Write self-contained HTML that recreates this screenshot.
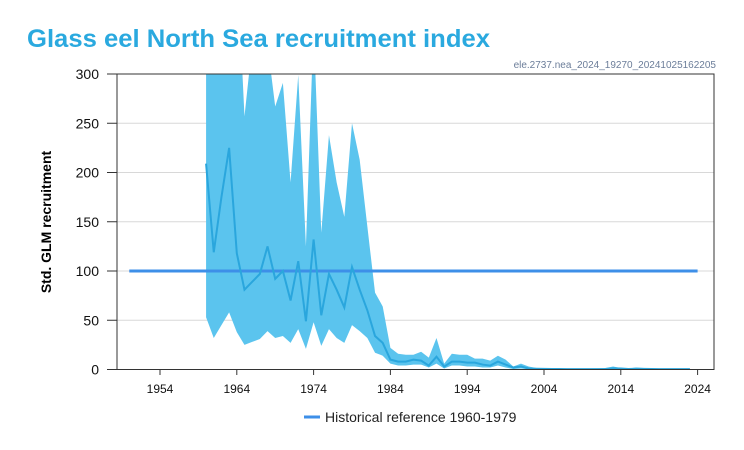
<!DOCTYPE html>
<html><head><meta charset="utf-8"><style>
body{margin:0;background:#fff;width:744px;height:450px;overflow:hidden}
svg{display:block;font-family:"Liberation Sans",sans-serif}
</style></head><body>
<svg id="chart" width="744" height="450">
<text x="27" y="47" font-size="25" font-weight="bold" fill="#2aa9df" textLength="463" lengthAdjust="spacingAndGlyphs">Glass eel North Sea recruitment index</text>
<text x="716" y="68" font-size="10" fill="#6b7d99" text-anchor="end">ele.2737.nea_2024_19270_20241025162205</text>
<text transform="translate(51,222) rotate(-90)" font-size="14" font-weight="bold" text-anchor="middle" fill="#000">Std. GLM recruitment</text>
<g id="grid"></g>
<defs><clipPath id="pc"><rect x="117" y="74" width="597" height="295"/></clipPath></defs>
<g id="marks" clip-path="url(#pc)"></g>
<rect x="117" y="74" width="597" height="295.5" fill="none" stroke="#333" stroke-width="1"/>
<g id="axes"></g>
<g>
<line x1="304" y1="417" x2="320" y2="417" stroke="#3d8fe8" stroke-width="3"/>
<text x="325" y="422" font-size="14" fill="#222">Historical reference 1960-1979</text>
</g>
</svg>
<script>
const years=[];for(let y=1960;y<=2023;y++)years.push(y);
const meanVals=[209,119,175,225,118,81,89,97,125,92,100,70,110,49,132,55,97,81,63,104,81,60,34,27,10,8,8,10,9,4,13,3,8,8,7,7,5,4,8,5,2,3,1,0.8,0.6,0.5,0.5,0.4,0.4,0.4,0.4,0.4,0.5,1.2,1,0.5,0.8,0.6,0.5,0.4,0.4,0.4,0.4,0.4];
const upperVals=[420,420,420,420,420,257,330,340,330,267,291,190,299,125,350,139,238,190,155,250,213,145,78,64,22,16,15,15,18,12,32,6,16,15,15,11,11,9,14,10,3,6,3,1.5,1,1,1,1,1,1,1,1.2,1.5,3,1.5,1,2,1.5,1,1,1,1,1,1];
const lowerVals=[53,32,45,58,38,25,28,31,39,32,34,27,41,21,48,24,41,32,27,45,39,32,17,14,6,4,4,5,5,2,6,1,4,4,3,3,2,2,4,2,0.5,1,0.3,0.2,0.2,0.1,0.1,0.1,0.1,0.1,0.1,0.1,0.1,0.4,0.3,0.1,0.2,0.1,0.1,0.1,0.1,0.1,0.1,0.1];
const refValue=100, refStart=1950, refEnd=2024;
const xTicks=[1954,1964,1974,1984,1994,2004,2014,2024];
const yTicks=[0,50,100,150,200,250,300];
const NS="http://www.w3.org/2000/svg";
const X=y=>160+(y-1954)*7.68;
const Y=v=>369.5-v*(295.5/300);
function mk(tag,attrs,parent){const e=document.createElementNS(NS,tag);for(const k in attrs)e.setAttribute(k,attrs[k]);document.getElementById(parent).appendChild(e);return e;}
yTicks.forEach(t=>{
  if(t>0&&t<300){const g=mk('line',{x1:117,x2:714,y1:Y(t),y2:Y(t),stroke:'#d8d8d8','stroke-width':1},'grid');
  
  }
  const tk=mk('line',{x1:107,x2:117,y1:Y(t),y2:Y(t),stroke:'#333'},'axes');
  
  
  const l=mk('text',{x:99,y:Y(t)+5,'font-size':14,'text-anchor':'end',fill:'#111'},'axes');l.textContent=t;
  
  
});
xTicks.forEach(t=>{
  const tk=mk('line',{x1:X(t),x2:X(t),y1:369.5,y2:375,stroke:'#333'},'axes');
  
  
  const l=mk('text',{x:X(t),y:393,'font-size':12,'text-anchor':'middle',fill:'#111'},'axes');l.textContent=t;
  
  
});
let d='';years.forEach((y,i)=>{d+=(i?'L':'M')+X(y)+','+Y(upperVals[i]);});
for(let i=years.length-1;i>=0;i--)d+='L'+X(years[i])+','+Y(lowerVals[i]);
const band=mk('path',{d:d+'Z',fill:'#5bc4ee'},'marks');


const ref=mk('line',{x1:X(refStart),x2:X(refEnd),y1:Y(refValue),y2:Y(refValue),stroke:'#3d8fe8','stroke-width':3},'marks');


const line=mk('polyline',{points:years.map((y,i)=>X(y)+','+Y(meanVals[i])).join(' '),fill:'none',stroke:'#2aa6dd','stroke-width':2},'marks');


</script>
</body></html>
